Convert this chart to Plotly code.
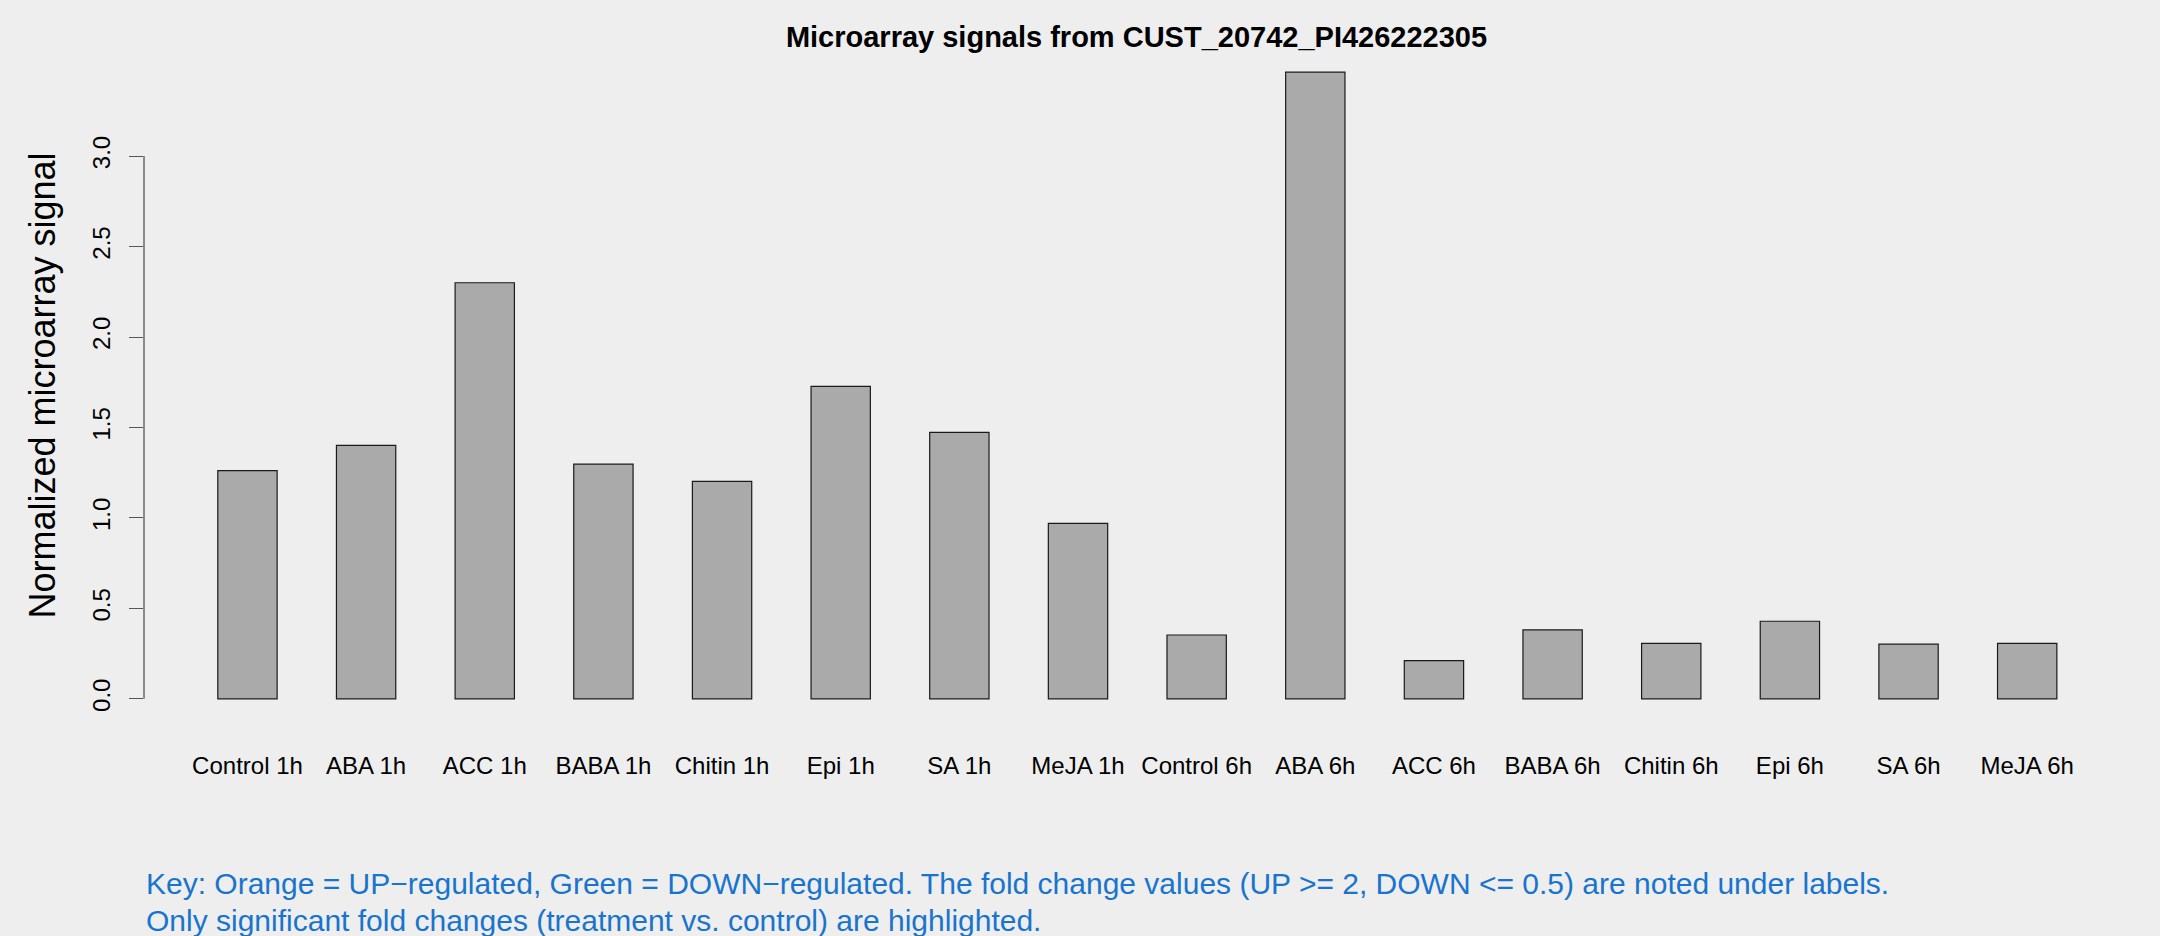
import plotly.graph_objects as go

categories = ["Control 1h", "ABA 1h", "ACC 1h", "BABA 1h", "Chitin 1h", "Epi 1h",
              "SA 1h", "MeJA 1h", "Control 6h", "ABA 6h", "ACC 6h", "BABA 6h",
              "Chitin 6h", "Epi 6h", "SA 6h", "MeJA 6h"]
signals = [1.261, 1.401, 2.300, 1.297, 1.202, 1.727, 1.473, 0.970,
           0.353, 3.464, 0.211, 0.381, 0.307, 0.429, 0.302, 0.307]
y_ticks = [0.0, 0.5, 1.0, 1.5, 2.0, 2.5, 3.0]
y_ticktext = ["0.0", "0.5", "1.0", "1.5", "2.0", "2.5", "3.0"]

title_text = "Microarray signals from CUST_20742_PI426222305"
y_title = "Normalized microarray signal"
key_lines = [
    "Key: Orange = UP\u2212regulated, Green = DOWN\u2212regulated. The fold change values (UP >= 2, DOWN <= 0.5) are noted under labels.",
    "Only significant fold changes (treatment vs. control) are highlighted.",
]

FONT = "Liberation Sans, Arial, Helvetica, sans-serif"
BG = "#EEEEEE"

W, H = 2160, 936
ML, MR, MT, MB = 144, 31, 47, 212
plot_h = H - MT - MB

fig = go.Figure()
fig.add_trace(go.Bar(
    x=categories, y=signals, width=0.5,
    marker=dict(color="#AAAAAA", line=dict(color="#1a1a1a", width=1.2)),
    showlegend=False, hoverinfo="x+y",
))

fig.update_layout(
    width=W, height=H,
    paper_bgcolor=BG, plot_bgcolor=BG,
    margin=dict(l=ML, r=MR, t=MT, b=MB, pad=0),
    font=dict(family=FONT, color="black"),
    title=dict(text=title_text, x=(ML + (W - MR - ML) / 2) / W, xanchor="center",
               y=1 - 37 / H, yanchor="middle", yref="container",
               font=dict(size=29, family=FONT, weight="bold", color="black")),
    bargap=0.5,
)

fig.update_xaxes(
    type="category", range=[-0.872, 15.858],
    showline=False, showgrid=False, zeroline=False,
    ticks="", tickfont=dict(size=24, family=FONT, color="black"),
    ticklabelstandoff=25, fixedrange=True,
)

fig.update_yaxes(
    range=[-0.139, 3.603], tickvals=y_ticks, ticktext=y_ticktext,
    showline=False, showgrid=False, zeroline=False,
    ticks="outside", ticklen=14, tickwidth=1.3, tickcolor="#555555",
    tickangle=-90, tickfont=dict(size=24, family=FONT, color="black"),
    ticklabelstandoff=9,
    title=dict(text=y_title, font=dict(size=36, family=FONT, color="black"), standoff=21),
    fixedrange=True,
)

# R-style axis line spanning first to last tick only
fig.add_shape(type="line", xref="paper", yref="y", x0=0, x1=0,
              y0=y_ticks[0], y1=y_ticks[-1], line=dict(color="#555555", width=1.3))

key_y_px = [883, 920.5]
for line, ypx in zip(key_lines, key_y_px):
    fig.add_annotation(text=line, xref="paper", yref="paper", x=0, xanchor="left",
                       y=(H - MB - ypx) / plot_h, yanchor="middle", showarrow=False,
                       font=dict(size=30, family=FONT, color="#1874CD"))

fig.write_html(
    "out.html",
    config={"displayModeBar": False},
    post_script="document.body.style.margin='0';document.body.style.padding='0';"
                "document.body.style.background='#EEEEEE';"
                "document.documentElement.style.overflow='hidden';",
)
